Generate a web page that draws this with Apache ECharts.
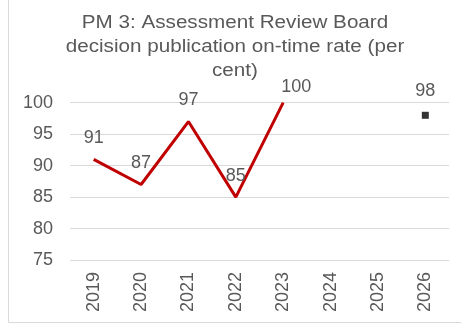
<!DOCTYPE html>
<html>
<head>
<meta charset="utf-8">
<script src="https://cdn.jsdelivr.net/npm/echarts@6/dist/echarts.min.js"></script>
<style>
  html, body { margin: 0; padding: 0; background: #fff; }
  #chart { width: 461px; height: 329px; }
</style>
</head>
<body>
<div id="chart"></div>
<script>
// Years on the category axis
const years = ['2019', '2020', '2021', '2022', '2023', '2024', '2025', '2026'];
// Actual on-time rate (per cent), 2019-2023
const actualRate = [91, 87, 97, 85, 100, null, null, null];
// Target rate for 2026
const targetRate = [null, null, null, null, null, null, null, 98];
// Value axis ticks
const yTicks = [75, 80, 85, 90, 95, 100];
// Chart title, one entry per line
const titleLines = ['PM 3: Assessment Review Board', 'decision publication on-time rate (per', 'cent)'];

const textColor = '#595959';
const fontFamily = '"Liberation Sans", Arial, sans-serif';

const chart = echarts.init(document.getElementById('chart'), null, { renderer: 'canvas' });

chart.setOption({
  animation: false,
  backgroundColor: '#ffffff',
  textStyle: { fontFamily: fontFamily },
  graphic: [
    {
      type: 'rect',
      shape: { x: 8.5, y: -5, width: 470, height: 327.5 },
      style: { fill: 'none', stroke: '#d9d9d9', lineWidth: 1 },
      silent: true,
      z: -1
    },
    {
      // wide-set title, centred over the plot
      type: 'text',
      x: 235,
      y: 11,
      scaleX: 1.18,
      style: {
        text: titleLines.join('\n'),
        align: 'center',
        verticalAlign: 'top',
        fill: textColor,
        font: '17.5px ' + fontFamily,
        lineHeight: 24
      },
      silent: true
    }
  ],
  grid: { left: 70, right: 12, top: 102.7, bottom: 69 },
  xAxis: {
    type: 'category',
    data: years,
    boundaryGap: true,
    axisLine: { show: false },
    axisTick: { show: false },
    axisLabel: {
      rotate: 90,
      color: textColor,
      fontSize: 18,
      margin: 12,
      fontFamily: fontFamily
    }
  },
  yAxis: {
    type: 'value',
    min: yTicks[0],
    max: yTicks[yTicks.length - 1],
    interval: 5,
    axisLine: { show: false },
    axisTick: { show: false },
    axisLabel: {
      color: textColor,
      fontSize: 18,
      margin: 17,
      fontFamily: fontFamily
    },
    splitLine: { lineStyle: { color: '#d9d9d9', width: 1 } }
  },
  series: [
    {
      name: 'Actual',
      type: 'line',
      data: actualRate,
      symbol: 'circle',
      symbolSize: 1,
      showSymbol: true,
      itemStyle: { color: 'rgba(0,0,0,0)' },
      connectNulls: false,
      lineStyle: { color: '#c00000', width: 3 },
      label: {
        show: true,
        position: 'top',
        distance: 12,
        color: textColor,
        fontSize: 18,
        fontFamily: fontFamily
      },
      labelLayout: (params) => {
        if (params.dataIndex === 4) {
          return { dx: 13, dy: 6 };
        }
        return {};
      },
      z: 3
    },
    {
      name: 'Target',
      type: 'line',
      data: targetRate,
      symbol: 'rect',
      symbolSize: 7,
      itemStyle: { color: '#333333' },
      lineStyle: { width: 0 },
      label: {
        show: true,
        position: 'top',
        distance: 12,
        color: textColor,
        fontSize: 18,
        fontFamily: fontFamily
      },
      z: 3
    }
  ]
});
</script>
</body>
</html>
